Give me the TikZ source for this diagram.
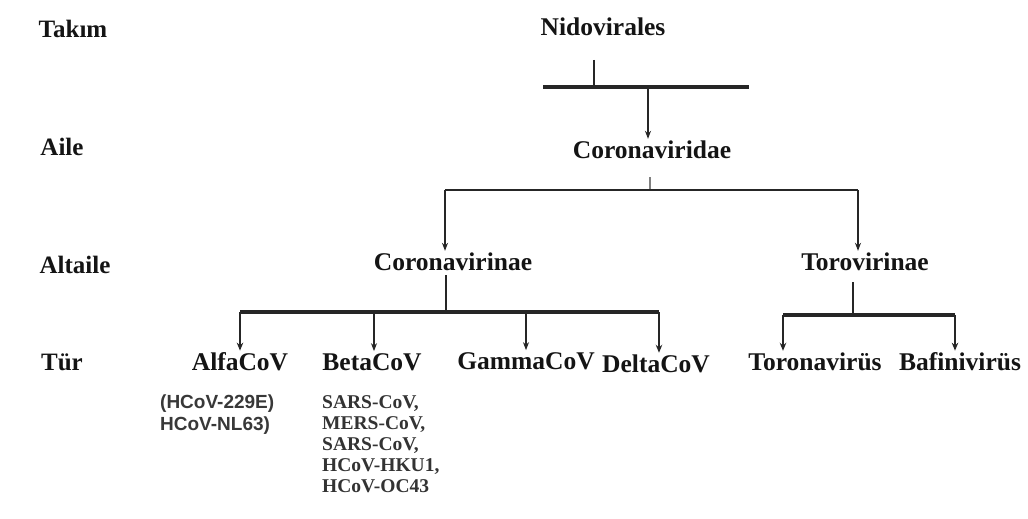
\documentclass[tikz,border=0pt]{standalone}
\usepackage{fontspec}
\setmainfont{Liberation Serif}
\newfontfamily\subsans{Liberation Sans}
\usetikzlibrary{arrows.meta}
\begin{document}
\begin{tikzpicture}[x=1pt,y=-1pt,
  lab/.style={font=\fontsize{25.5}{30}\selectfont\bfseries, text=black!92, inner sep=2pt},
  rank/.style={font=\fontsize{25}{29}\selectfont\bfseries, text=black!92, inner sep=2pt},
  subs/.style={font=\fontsize{19}{21.5}\selectfont\bfseries\subsans, text=black!78, align=left, inner sep=0pt, anchor=north west},
  subr/.style={font=\fontsize{19.5}{21}\selectfont\bfseries, text=black!80, align=left, inner sep=0pt, anchor=north west},
  thinln/.style={line width=1.1pt, draw=black!85},
  bar/.style={line width=3.2pt, draw=black!85},
  midbar/.style={line width=2.4pt, draw=black!85},
  arr/.style={line width=1.1pt, draw=black!85, -{Stealth[length=8pt,width=6pt]}},
  arrb/.style={line width=2pt, draw=black!85, -{Stealth[length=8pt,width=6.5pt]}}]
\useasboundingbox (0,0) rectangle (1028,519);
\fill[white] (0,0) rectangle (1028,519);
% rank labels
\node[rank] (takim) at (73,29) {Takım};
\node[rank] (aile) at (62,147) {Aile};
\node[rank] (altaile) at (75,265) {Altaile};
\node[rank] (tur) at (62,362) {Tür};
% taxa
\node[lab] (nido) at (603,27) {Nidovirales};
\node[lab] (coridae) at (652,150) {Coronaviridae};
\node[lab] (corinae) at (453,262) {Coronavirinae};
\node[lab] (toro) at (865,262) {Torovirinae};
\node[lab] (alfa) at (240,362) {AlfaCoV};
\node[lab] (beta) at (372,362) {BetaCoV};
\node[lab] (gamma) at (526,361) {GammaCoV};
\node[lab] (delta) at (656,364) {DeltaCoV};
\node[lab] (toronav) at (815,362) {Toronavirüs};
\node[lab] (bafini) at (960,362) {Bafinivirüs};
\node[subs] (alfasub) at (160,395) {(HCoV-229E)\\HCoV-NL63)};
\node[subr] (betasub) at (322,395) {SARS-CoV,\\MERS-CoV,\\SARS-CoV,\\HCoV-HKU1,\\HCoV-OC43};
% Nidovirales -> Coronaviridae
\coordinate (s1) at (594,60);
\coordinate (j1) at (594,87);
\coordinate (b1L) at (543,87);
\coordinate (b1R) at (749,87);
\coordinate (d1) at (648,87);
\draw[thinln] (s1) -- (j1);
\draw[bar] (b1L) -- (b1R);
\draw[arr] (d1) -- (d1 |- coridae.north);
% Coronaviridae -> subfamilies
\coordinate (s2) at (650,177);
\coordinate (j2) at (650,190);
\coordinate (b2L) at (445,190);
\coordinate (b2R) at (858,190);
\draw[thinln, draw=black!50] (s2) -- (j2);
\draw[midbar] (b2L) -- (b2R);
\draw[arr] (b2L) -- (b2L |- corinae.north);
\draw[arr] (b2R) -- (b2R |- toro.north);
% Coronavirinae -> genera
\coordinate (s3) at (446,275);
\coordinate (j3) at (446,312);
\coordinate (b3L) at (240,312);
\coordinate (b3R) at (659,312);
\coordinate (d3b) at (374,312);
\coordinate (d3g) at (526,312);
\draw[midbar] (s3) -- (j3);
\draw[bar] (b3L) -- (b3R);
\draw[arrb] (b3L) -- (b3L |- alfa.north);
\draw[arr, line width=1.5pt] (d3b) -- (d3b |- beta.north);
\draw[arr, line width=1.3pt] (d3g) -- (d3g |- gamma.north);
\draw[arrb] (b3R) -- (b3R |- delta.north);
% Torovirinae -> genera
\coordinate (s4) at (853,282);
\coordinate (j4) at (853,315);
\coordinate (b4L) at (783,315);
\coordinate (b4R) at (955,315);
\draw[midbar] (s4) -- (j4);
\draw[bar] (b4L) -- (b4R);
\draw[arrb] (b4L) -- (b4L |- toronav.north);
\draw[arrb] (b4R) -- (b4R |- bafini.north);
\end{tikzpicture}
\end{document}
